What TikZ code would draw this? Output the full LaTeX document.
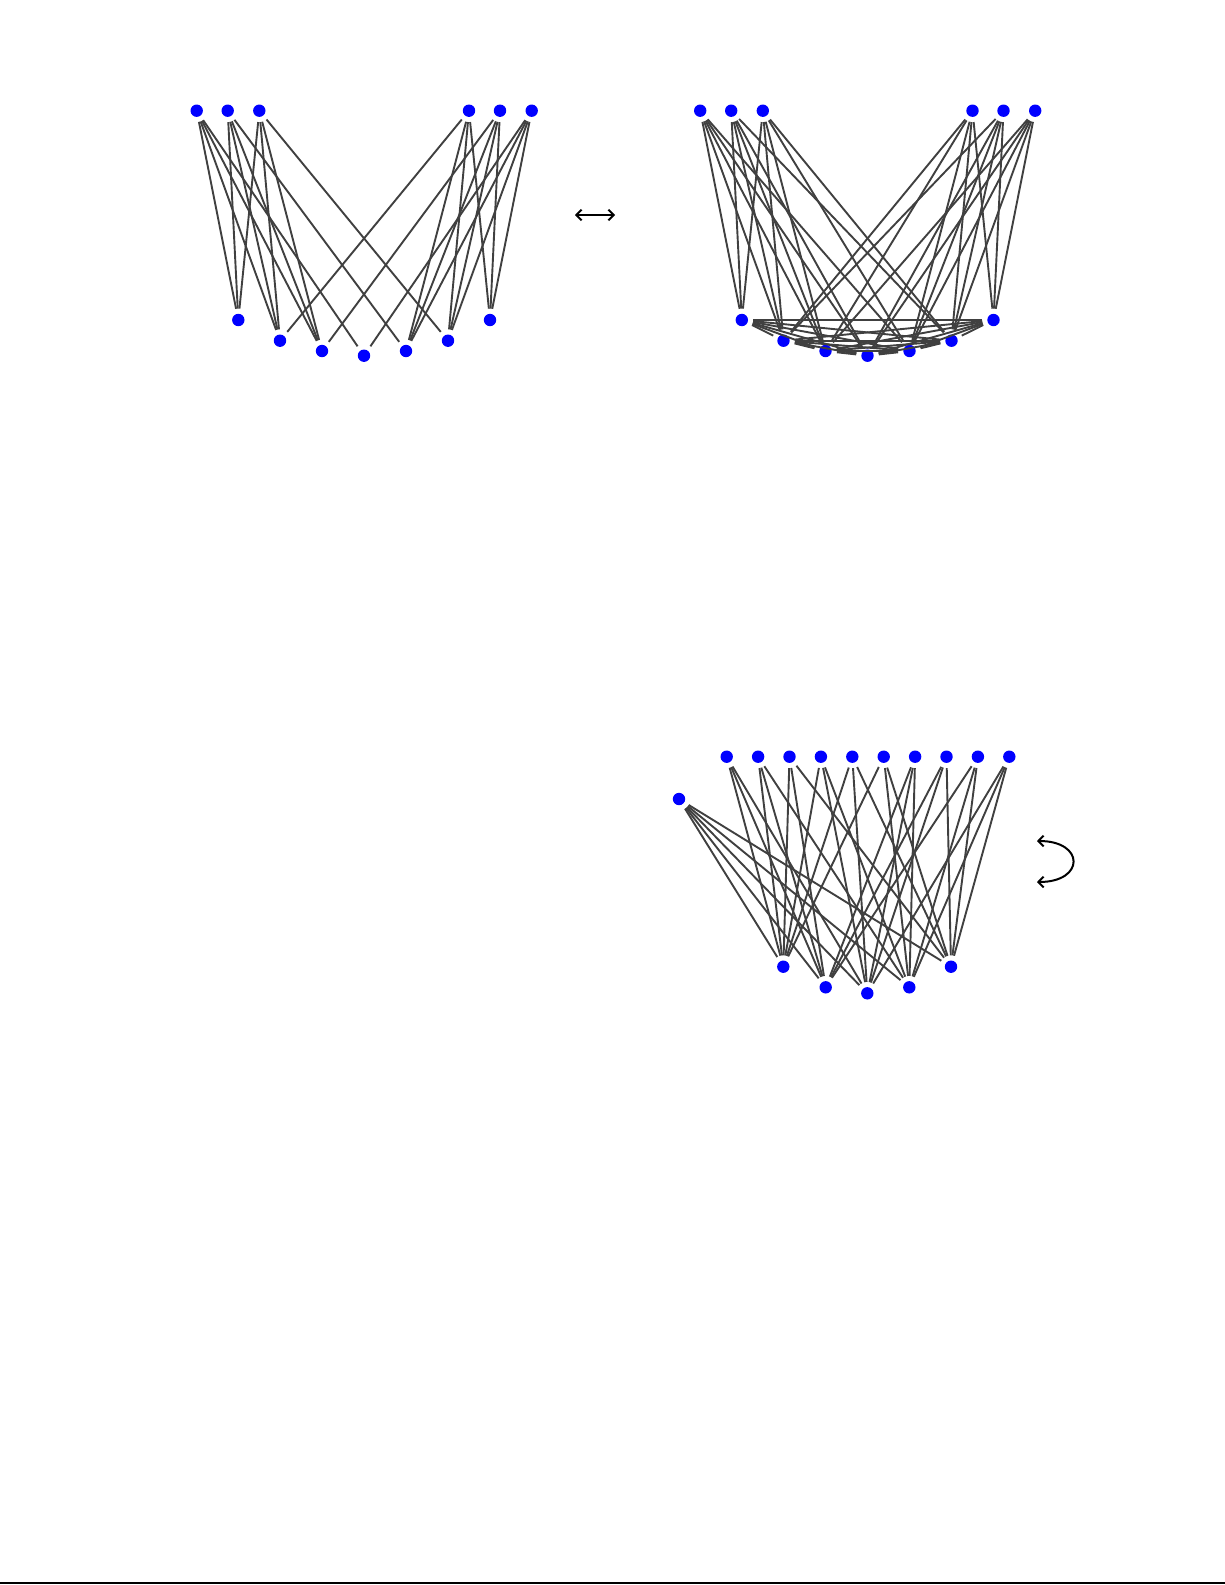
\documentclass[tikz,border=0pt]{standalone}
\usepackage{tikz}
\usetikzlibrary{arrows.meta}

\begin{document}
\begin{tikzpicture}[x=0.5pt,y=-0.5pt,-,>={Straight Barb[length=2.6pt,width=5.4pt]},
  main node/.style={circle, fill=blue, inner sep=0pt, minimum size=6.2pt, outer sep=2.6pt},
  link/.style={draw=black!75, line width=0.95pt}]

\useasboundingbox (0,0) rectangle (1225,1585);

% left graph
\node[main node] (a1) at (196.7,110.7) {};
\node[main node] (a2) at (227.7,110.7) {};
\node[main node] (a3) at (259.3,110.7) {};
\node[main node] (a4) at (469,110.7) {};
\node[main node] (a5) at (500,110.7) {};
\node[main node] (a6) at (531.7,110.7) {};
\node[main node] (b1) at (238.3,320) {};
\node[main node] (b2) at (280,340.7) {};
\node[main node] (b3) at (322,351) {};
\node[main node] (b4) at (364,355.7) {};
\node[main node] (b5) at (406,351) {};
\node[main node] (b6) at (448,340.7) {};
\node[main node] (b7) at (490,320) {};

\path[link]
(a1) edge (b1) edge (b2) edge (b3) edge (b4)
(a2) edge (b1) edge (b2) edge (b3) edge (b5)
(a3) edge (b1) edge (b2) edge (b3) edge (b6)
(a4) edge (b5) edge (b6) edge (b7) edge (b2)
(a5) edge (b5) edge (b6) edge (b7) edge (b3)
(a6) edge (b5) edge (b6) edge (b7) edge (b4);

% right graph
\node[main node] (e1) at (700.2,110.7) {};
\node[main node] (e2) at (731.2,110.7) {};
\node[main node] (e3) at (762.8,110.7) {};
\node[main node] (e4) at (972.5,110.7) {};
\node[main node] (e5) at (1003.5,110.7) {};
\node[main node] (e6) at (1035.2,110.7) {};
\node[main node] (f1) at (741.8,320) {};
\node[main node] (f2) at (783.5,340.7) {};
\node[main node] (f3) at (825.5,351) {};
\node[main node] (f4) at (867.5,355.7) {};
\node[main node] (f5) at (909.5,351) {};
\node[main node] (f6) at (951.5,340.7) {};
\node[main node] (f7) at (993.5,320) {};

\path[link]
(e1) edge (f1) edge (f2) edge (f3) edge (f4) edge (f5)
(e2) edge (f1) edge (f2) edge (f3) edge (f4) edge (f6)
(e3) edge (f1) edge (f2) edge (f3) edge (f5) edge (f6)
(e4) edge (f5) edge (f6) edge (f7) edge (f2) edge (f3)
(e5) edge (f5) edge (f6) edge (f7) edge (f2) edge (f4)
(e6) edge (f5) edge (f6) edge (f7) edge (f3) edge (f4)
(f1) edge (f2) edge (f3) edge (f4) edge (f5) edge (f6) edge (f7)
(f2) edge (f3) edge (f4) edge (f5) edge (f6) edge (f7)
(f3) edge (f4) edge (f5) edge (f6) edge (f7)
(f4) edge (f5) edge (f6) edge (f7)
(f5) edge (f6) edge (f7)
(f6) edge (f7);

% equivalence arrow
\coordinate (p1) at (575,215);
\coordinate (p2) at (615,215);
\draw[<->, line width=1pt] (p1) -- (p2);

% bottom graph
\node[main node] (c0) at (679,799) {};
\node[main node] (c1) at (726.7,756.7) {};
\node[main node] (c2) at (758.1,756.7) {};
\node[main node] (c3) at (789.5,756.7) {};
\node[main node] (c4) at (820.9,756.7) {};
\node[main node] (c5) at (852.3,756.7) {};
\node[main node] (c6) at (883.7,756.7) {};
\node[main node] (c7) at (915.1,756.7) {};
\node[main node] (c8) at (946.5,756.7) {};
\node[main node] (c9) at (977.9,756.7) {};
\node[main node] (c10) at (1009.3,756.7) {};
\node[main node] (d1) at (783.3,966.7) {};
\node[main node] (d2) at (825.7,987.3) {};
\node[main node] (d3) at (867.3,993.3) {};
\node[main node] (d4) at (909.3,987.3) {};
\node[main node] (d5) at (951,966.7) {};

\path[link]
(c0) edge (d1) edge (d2) edge (d3) edge (d4) edge (d5)
(c1) edge (d1) edge (d2) edge (d3)
(c2) edge (d1) edge (d2) edge (d4)
(c3) edge (d1) edge (d2) edge (d5)
(c4) edge (d1) edge (d3) edge (d4)
(c5) edge (d1) edge (d3) edge (d5)
(c6) edge (d1) edge (d4) edge (d5)
(c7) edge (d2) edge (d3) edge (d4)
(c8) edge (d2) edge (d3) edge (d5)
(c9) edge (d2) edge (d4) edge (d5)
(c10) edge (d3) edge (d4) edge (d5);

% turn arrow
\coordinate (q1) at (1037,841);
\coordinate (q2) at (1037,882);
\draw[<->, line width=1pt] (q1) .. controls (1085,841) and (1085,882) .. (q2);

% page rule
\draw[line width=1pt] (0,1583) -- (1225,1583);

\end{tikzpicture}
\end{document}
